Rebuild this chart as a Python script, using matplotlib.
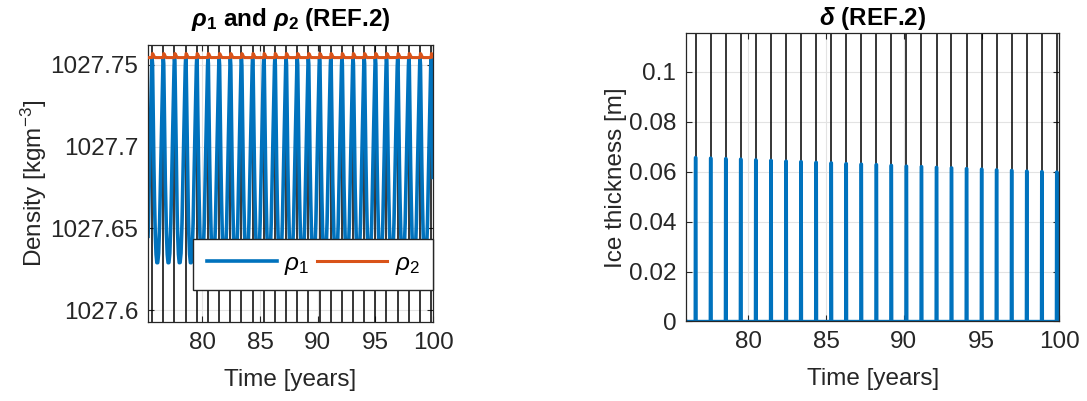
import numpy as np
import matplotlib
matplotlib.use('Agg')
import matplotlib.pyplot as plt

# yearly event times (black lines / ice formation)
event_years = [75.65, 76.62, 77.59, 78.56, 79.52, 80.49, 81.46, 82.43, 83.39,
               84.36, 85.33, 86.29, 87.26, 88.23, 89.19, 90.16, 91.13, 92.10,
               93.06, 94.03, 95.00, 95.96, 96.93, 97.90, 98.87, 99.83]
prev_event = 74.68

# peak ice thickness at each event [m]
ice_peak = [0.0658, 0.0656, 0.0654, 0.0652, 0.0650, 0.0647, 0.0645, 0.0642,
            0.0640, 0.0637, 0.0635, 0.0632, 0.0630, 0.0628, 0.0625, 0.0622,
            0.0620, 0.0617, 0.0615, 0.0612, 0.0610, 0.0607, 0.0605, 0.0602,
            0.0600, 0.0598]

# density levels [kg m^-3]
rho_top = 1027.7545
rho_min = 1027.629
rho2_level = 1027.7545
rho2_bump = 0.0025

# one year of rho1, as phase -> fraction of the drop
cycle_phase = [0.0, 0.04, 0.10, 0.18, 0.26, 0.34, 0.42, 0.50, 0.58, 0.66,
               0.74, 0.82, 0.90, 0.96, 1.0]
cycle_depth = [0.0, 0.03, 0.30, 0.60, 0.82, 0.95, 1.00, 1.00, 0.96, 0.84,
               0.64, 0.42, 0.20, 0.05, 0.0]
bump_phase = [0.0, 0.03, 0.08, 0.15, 0.25, 1.0]
bump_size = [0.0, 1.0, 0.9, 0.4, 0.0, 0.0]

t_start_left, t_start_right, t_end = 75.3, 76.0, 100.0

# build the time series
all_events = [prev_event] + event_years
t = np.linspace(t_start_left, t_end, 8000)
rho1 = np.full_like(t, rho_top)
rho2 = np.full_like(t, rho2_level)
for i, ev in enumerate(all_events):
    nxt = all_events[i + 1] if i + 1 < len(all_events) else ev + 0.967
    m = (t >= ev) & (t < nxt)
    ph = (t[m] - ev) / (nxt - ev)
    rho1[m] = rho_top - (rho_top - rho_min) * np.interp(ph, cycle_phase, cycle_depth)
    rho2[m] = rho2_level + rho2_bump * np.interp(ph, bump_phase, bump_size)

ice_t = [t_start_right]
ice_v = [0.0]
for ev, p in zip(event_years, ice_peak):
    ice_t += [ev - 0.03, ev - 0.015, ev + 0.015, ev + 0.03]
    ice_v += [0.0, p, p, 0.0]
ice_t.append(t_end)
ice_v.append(0.0)

plt.rcParams['font.family'] = ['Liberation Sans', 'DejaVu Sans']
plt.rcParams['mathtext.fontset'] = 'custom'
plt.rcParams['mathtext.rm'] = 'Liberation Sans'
plt.rcParams['mathtext.it'] = 'Liberation Sans:italic'
plt.rcParams['mathtext.bf'] = 'Liberation Sans:bold'
plt.rcParams['mathtext.bfit'] = 'Liberation Sans:bold:italic'

fs = 17.5
txt = '#262626'
blue = '#0072BD'
orange = '#D95319'

fig = plt.figure(figsize=(10.87, 4.01), dpi=100)
ax1 = fig.add_axes([0.1362, 0.197, 0.2622, 0.692])
ax2 = fig.add_axes([0.6311, 0.1983, 0.3436, 0.7187])

for ev in event_years:
    ax1.axvline(ev, color='k', lw=1.1, zorder=1)
    ax2.axvline(ev, color='k', lw=1.1, zorder=1)

ax1.plot(t, rho1, color=blue, lw=2.6, label=r'$\rho_1$', zorder=2)
ax1.plot(t, rho2, color=orange, lw=2.2, label=r'$\rho_2$', zorder=3)
ax1.set_xlim(t_start_left, t_end)
ax1.set_ylim(1027.5927, 1027.7625)
ax1.set_yticks([1027.6, 1027.65, 1027.7, 1027.75])
ax1.set_yticklabels(['1027.6', '1027.65', '1027.7', '1027.75'])
ax1.set_ylabel(r'Density [kgm$^{-3}$]', fontsize=fs, color=txt, labelpad=1)
ax1.set_title(r'$\mathbfit{\rho}_\mathbf{1}$ and $\mathbfit{\rho}_\mathbf{2}$ (REF.2)',
              fontsize=fs, fontweight='bold', pad=13)
leg = ax1.legend(loc='lower right', bbox_to_anchor=(1.0, 0.115), ncol=2,
                 fontsize=fs, handlelength=2.9, fancybox=False, framealpha=1,
                 edgecolor='#262626', borderaxespad=0, columnspacing=0.3,
                 handletextpad=0.3, borderpad=0.55)
leg.get_frame().set_linewidth(1.0)
leg.set_zorder(10)

ax2.plot(ice_t, ice_v, color=blue, lw=2.4, zorder=2)
ax2.set_xlim(t_start_right, t_end)
ax2.set_ylim(0, 0.1154)
ax2.set_yticks([0, 0.02, 0.04, 0.06, 0.08, 0.1])
ax2.set_yticklabels(['0', '0.02', '0.04', '0.06', '0.08', '0.1'])
ax2.set_ylabel('Ice thickness [m]', fontsize=fs, color=txt, labelpad=1)
ax2.set_title(r'$\mathbfit{\delta}$ (REF.2)', fontsize=fs, fontweight='bold', pad=6)

for ax in (ax1, ax2):
    ax.set_xticks([80, 85, 90, 95, 100])
    ax.set_xlabel('Time [years]', fontsize=fs, color=txt, labelpad=11)
    ax.grid(True, color='#e3e3e3', lw=0.8, zorder=0)
    ax.set_axisbelow(True)
    ax.tick_params(direction='in', top=True, right=True, length=4,
                   labelsize=fs, colors=txt, width=0.8, pad=7)
    for s in ax.spines.values():
        s.set_color(txt)
        s.set_linewidth(0.9)

fig.savefig('out.png', dpi=100)
